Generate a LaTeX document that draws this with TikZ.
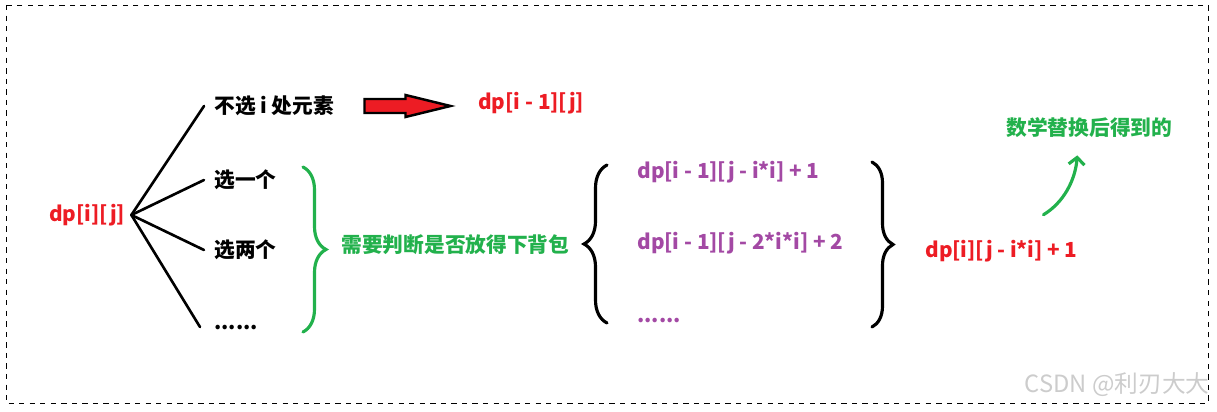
\documentclass[tikz,border=0pt]{standalone}
\usepackage{fontspec}
\setmainfont{Noto Sans CJK SC}
\usepackage{tikz}
\usetikzlibrary{arrows.meta, decorations.pathreplacing, calc}
\definecolor{pred}{RGB}{237,28,36}
\definecolor{pgreen}{RGB}{34,177,76}
\definecolor{ppurple}{RGB}{163,73,164}
\tikzstyle{txt} = [font=\bfseries\fontsize{11.8}{14}\selectfont, inner sep=0pt, anchor=west]
\tikzstyle{choice} = [txt, inner xsep=0.2cm]
\tikzstyle{fan} = [line width=1.5pt, line cap=round]
\tikzstyle{curly} = [line width=1.8pt, line cap=round, decorate, decoration={brace, amplitude=0.46cm}]
\tikzstyle{fat} = [draw=black, line width=1.4pt, fill=pred]
\tikzstyle{curvearrow} = [pgreen, line width=1.8pt, line cap=round, -{Straight Barb[length=4pt, width=9pt]}]

\begin{document}
\begin{tikzpicture}[x=0.02cm, y=-0.02cm]
  \useasboundingbox (0,0) rectangle (1217,412);
  \draw[dashed, line width=0.5pt] (6,5) rectangle (1208,403);

  % left part
  \node[txt, pred, inner xsep=0.12cm] (dpij) at (43,215) {dp[i][j]};
  \node[choice] (skip) at (204,106) {不选 i 处元素};
  \node[choice] (one) at (204,180) {选一个};
  \node[choice] (two) at (204,250) {选两个};
  \node[choice, inner xsep=0.28cm] (more) at (200,327) {......};
  \coordinate (root) at (dpij.east);
  \foreach \n in {skip, one, two, more}
    \draw[fan] (root) -- (\n.west);

  \draw[fat] ($(skip.east)+(20,-7)$) -- ++(41,0) -- ++(0,-4) -- ++(45,11)
    -- ++(-45,11) -- ++(0,-4) -- ++(-41,0) -- cycle;
  \node[txt, pred] (prev) at (478,103) {dp[i - 1][j]};

  % braces
  \draw[curly, pgreen] (303,167) -- (303,332);
  \node[txt, pgreen] (check) at (341,245) {需要判断是否放得下背包};
  \draw[curly] (607,323) -- (607,165);
  \node[txt, ppurple] (t1) at (637,172) {dp[i - 1][j - i*i] + 1};
  \node[txt, ppurple] (t2) at (637,243) {dp[i - 1][j - 2*i*i] + 2};
  \node[txt, ppurple] (t3) at (637,320) {......};
  \draw[curly, decoration={amplitude=0.42cm}] (872,162) -- (872,327);

  % right part
  \node[txt, pred] (res) at (925,251) {dp[i][j - i*i] + 1};
  \node[txt, pgreen] (note) at (1006,128) {数学替换后得到的};
  \draw[curvearrow] ($(res.north)+(42,-25)$) .. controls +(20,-12) and +(-2,25) .. ($(note.south)+(-12,17)$);

  \node[anchor=east, inner sep=0pt, gray!40, font=\fontsize{13.5}{15}\selectfont] (mark) at (1210,385) {CSDN @利刃大大};
\end{tikzpicture}
\end{document}
